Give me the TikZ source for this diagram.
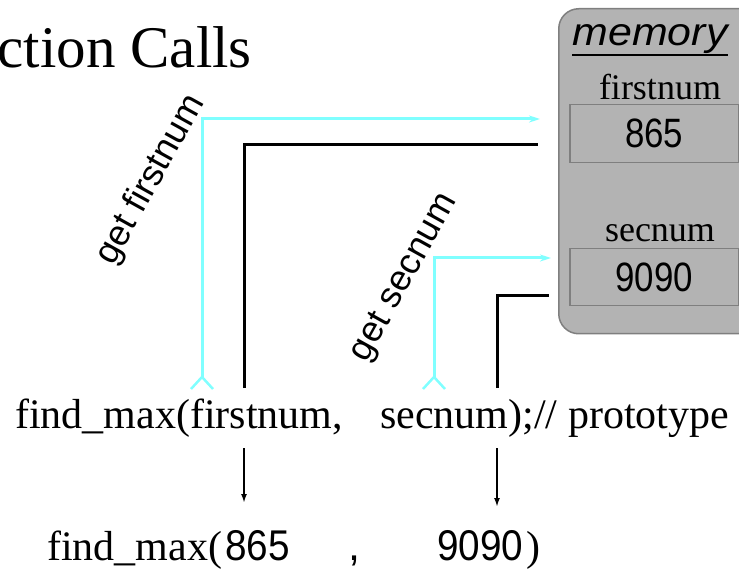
\documentclass[tikz,border=0pt]{standalone}
\usepackage{fontspec}
\usepackage{graphicx}
\setmainfont{Liberation Serif}
\newfontfamily\arialfont{Liberation Sans}
\usetikzlibrary{arrows.meta}
\definecolor{memgray}{HTML}{B3B3B3}
\definecolor{memedge}{HTML}{7F7F7F}
\definecolor{fetch}{HTML}{80FFFF}

\begin{document}
\begin{tikzpicture}[x=1pt,y=-1pt,
  serif/.style={inner sep=0pt, font=\fontsize{42}{48}\selectfont},
  label/.style={inner sep=0pt, font=\fontsize{36}{40}\selectfont},
  cell/.style={draw=memedge, fill=memgray, line width=1.5pt, inner sep=0pt,
    minimum width=169pt, anchor=north west, font=\arialfont\fontsize{41}{44}\selectfont},
  num/.style={inner sep=0pt, anchor=base west, font=\arialfont\fontsize{43}{46}\selectfont},
  getlbl/.style={inner sep=0pt, rotate=61, font=\arialfont\fontsize{36}{40}\selectfont},
  fetchline/.style={fetch, line width=3pt},
  fetcharrow/.style={fetchline, -{Stealth[length=11pt,width=7pt]}},
  passline/.style={black, line width=3pt},
  callarrow/.style={black, line width=1.8pt, -{Latex[length=9pt,width=6pt]}}
]
\useasboundingbox (0,0) rectangle (739,569);
\clip (0,0) rectangle (739,569);

% slide title, running off the left edge
\node[anchor=base east, inner sep=0pt, font=\fontsize{59}{62}\selectfont] (title) at (252,68) {Function Calls};

% memory panel with its two cells
\node[draw=memedge, fill=memgray, line width=1.5pt, rounded corners=20pt,
  minimum width=222pt, minimum height=325pt, inner sep=0pt, anchor=north west] (mem) at (558,8) {};
\node[anchor=base, inner sep=0pt, font=\arialfont\itshape\fontsize{39}{42}\selectfont] (memlbl) at (650,46) {\scalebox{1.1}[1]{memory}};
\draw[line width=2.5pt] ([yshift=-9pt]memlbl.base west) -- ([yshift=-9pt]memlbl.base east);

\node[label, anchor=base] (fname) at (660,100) {firstnum};
\node[cell, minimum height=58pt] (box1) at (569,104) {\scalebox{0.85}[1]{865}};
\node[label, anchor=base] (sname) at (660,242) {secnum};
\node[cell, minimum height=57pt] (box2) at (569,248) {\scalebox{0.85}[1]{9090}};

% rotated fetch labels
\node[getlbl] (get1) at (151,180) {get firstnum};
\node[getlbl] (get2) at (405,278) {get secnum};

% prototype line
\node[serif, anchor=base west] (proto1) at (15,428) {find\_max(firstnum,};
\node[serif, anchor=base west] (proto2) at (380,428) {secnum);// prototype};

% call line
\node[serif, anchor=base west] (call) at (47,560) {find\_max(};
\node[num] (arg1) at (225,560) {\scalebox{0.9}[1]{865}};
\node[num] (comma) at (348,560) {,};
\node[num] (arg2) at (437,560) {\scalebox{0.9}[1]{9090}};
\node[serif, anchor=base west] (close) at (526,560) {)};

% connector end points
\coordinate (f1) at (202,377);
\coordinate (in1) at (540,119);
\coordinate (f2) at (434,377);
\coordinate (in2) at (551,258);
\coordinate (s1) at (244,388);
\coordinate (out1) at (538,145);
\coordinate (s2) at (497,388);
\coordinate (out2) at (549,296);
\coordinate (d1) at (244,448);
\coordinate (e1) at (244,503);
\coordinate (d2) at (497,448);
\coordinate (e2) at (497,507);

% fetches from memory (cyan) with forked feet
\draw[fetcharrow] (f1) |- (in1);
\draw[fetchline, line width=2.5pt] ([xshift=-11pt,yshift=-12pt]f1) -- (f1) -- ([xshift=11pt,yshift=-12pt]f1);
\draw[fetcharrow] (f2) |- (in2);
\draw[fetchline, line width=2.5pt] ([xshift=-11pt,yshift=-12pt]f2) -- (f2) -- ([xshift=11pt,yshift=-12pt]f2);

% values handed over (black)
\draw[passline] (s1) |- (out1);
\draw[passline] (s2) |- (out2);
\draw[callarrow] (d1) -- (e1);
\draw[callarrow] (d2) -- (e2);
\end{tikzpicture}
\end{document}
